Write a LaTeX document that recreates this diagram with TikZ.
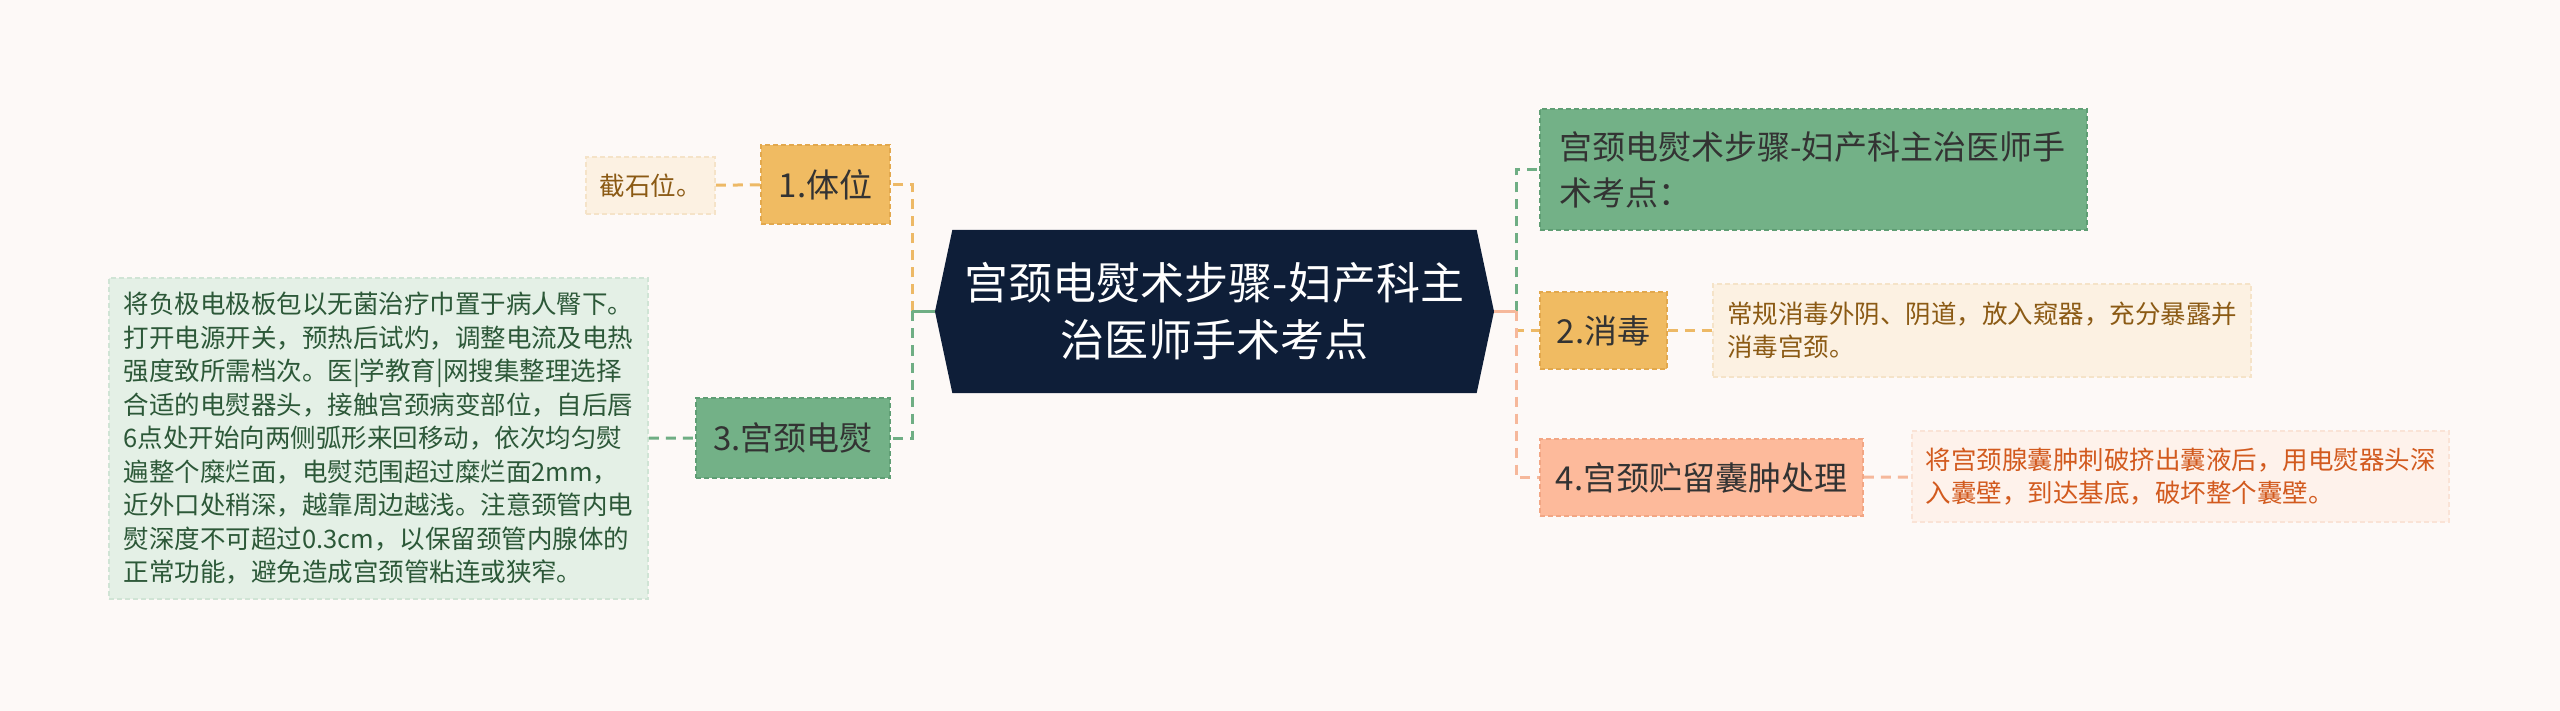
\documentclass[tikz,border=0pt]{standalone}
\usepackage{fontspec}
\setmainfont{Noto Sans CJK SC}
\usetikzlibrary{shapes.symbols}
\definecolor{bgcol}{HTML}{FDF9F7}
\definecolor{rootcol}{HTML}{0E1E38}
\definecolor{sandcol}{HTML}{F0BB62}
\definecolor{sanddraw}{HTML}{E2A84D}
\definecolor{sandleaf}{HTML}{FCF1E2}
\definecolor{sandleafdraw}{HTML}{F5E3C8}
\definecolor{sandtext}{HTML}{8B5A14}
\definecolor{greencol}{HTML}{73B187}
\definecolor{greendraw}{HTML}{5F9E74}
\definecolor{greenleaf}{HTML}{E4F0E6}
\definecolor{greenleafdraw}{HTML}{D0E4D5}
\definecolor{greentext}{HTML}{2C5838}
\definecolor{peachcol}{HTML}{FDBA9B}
\definecolor{peachdraw}{HTML}{F2A684}
\definecolor{peachleaf}{HTML}{FEF2EB}
\definecolor{peachleafdraw}{HTML}{FAE3D6}
\definecolor{peachtext}{HTML}{D25A1E}
\definecolor{sandlink}{HTML}{EDB966}
\definecolor{greenlink}{HTML}{6FAE84}
\definecolor{peachlink}{HTML}{F6B89B}
\begin{document}
\begin{tikzpicture}[x=1pt,y=-1pt,
	root_node/.style={signal,signal to=west and east,signal pointer angle=156,fill=rootcol,text=white,align=center,font=\fontsize{44}{57}\selectfont,minimum width=559,minimum height=163,inner sep=0pt},
	box_node/.style={line width=1.5pt,dash pattern=on 5pt off 3pt,text=black!80,inner sep=0pt,font=\fontsize{33}{46}\selectfont,align=left},
	sand_node/.style={box_node,fill=sandcol,draw=sanddraw},
	green_node/.style={box_node,fill=greencol,draw=greendraw},
	peach_node/.style={box_node,fill=peachcol,draw=peachdraw},
	leaf_node/.style={line width=1.5pt,dash pattern=on 5pt off 3pt,inner sep=0pt,font=\fontsize{25.5}{33.5}\selectfont,align=left},
	sand_leaf/.style={leaf_node,fill=sandleaf,draw=sandleafdraw,text=sandtext},
	green_leaf/.style={leaf_node,fill=greenleaf,draw=greenleafdraw,text=greentext},
	peach_leaf/.style={leaf_node,fill=peachleaf,draw=peachleafdraw,text=peachtext},
	link/.style={line width=3pt,dash pattern=on 10pt off 7pt},
	stub/.style={line width=3pt}]
		
		\fill[bgcol] (0,0) rectangle (2560,711);
		
		\node[root_node] (root) at (1214.5,311.5) {宫颈电熨术步骤-妇产科主\\治医师手术考点};
		
		\node[sand_node,minimum width=129,minimum height=79] (b1) at (825.5,184.5) {1.体位};
		\node[sand_leaf,minimum width=129,minimum height=57] (t1) at (650.5,185.5) {截石位。};
		\node[green_node,minimum width=194,minimum height=80] (b3) at (793,438) {3.宫颈电熨};
		\node[green_leaf,minimum width=539,minimum height=321] (t3) at (378.5,438.5) {将负极电极板包以无菌治疗巾置于病人臀下。\\打开电源开关，预热后试灼，调整电流及电热\\强度致所需档次。医|学教育|网搜集整理选择\\合适的电熨器头，接触宫颈病变部位，自后唇\\6点处开始向两侧弧形来回移动，依次均匀熨\\遍整个糜烂面，电熨范围超过糜烂面2mm，\\近外口处稍深，越靠周边越浅。注意颈管内电\\熨深度不可超过0.3cm，以保留颈管内腺体的\\正常功能，避免造成宫颈管粘连或狭窄。};
		
		\node[green_node,minimum width=547,minimum height=121,text width=509] (b0) at (1813.5,169.5) {宫颈电熨术步骤-妇产科主治医师手\\术考点：};
		\node[sand_node,minimum width=127,minimum height=77] (b2) at (1603.5,330.5) {2.消毒};
		\node[sand_leaf,minimum width=538,minimum height=93,text width=510] (t2) at (1982,330.5) {常规消毒外阴、阴道，放入窥器，充分暴露并\\消毒宫颈。};
		\node[peach_node,minimum width=323,minimum height=77] (b4) at (1701.5,477.5) {4.宫颈贮留囊肿处理};
		\node[peach_leaf,minimum width=537,minimum height=91,text width=510] (t4) at (2180.5,476.5) {将宫颈腺囊肿刺破挤出囊液后，用电熨器头深\\入囊壁，到达基底，破坏整个囊壁。};
		
		\coordinate (lj) at (912,311.5);
		\coordinate (rj) at (1516,311.5);
		
		\draw[link,sandlink] (lj) |- (b1.east);
		\draw[link,greenlink] (lj) |- (b3.east);
		\draw[stub,greenlink] (root.west) -- (lj);
		\draw[link,greenlink] (rj) |- (b0.west);
		\draw[link,sandlink] (rj) |- (b2.west);
		\draw[link,peachlink] (rj) |- (b4.west);
		\draw[stub,peachlink] (root.east) -- (rj);
		
		\draw[link,sandlink] (t1) -- (b1);
		\draw[link,greenlink] (t3) -- (b3);
		\draw[link,sandlink] (b2) -- (t2);
		\draw[link,peachlink] (b4) -- (t4);
		\end{tikzpicture}
\end{document}
